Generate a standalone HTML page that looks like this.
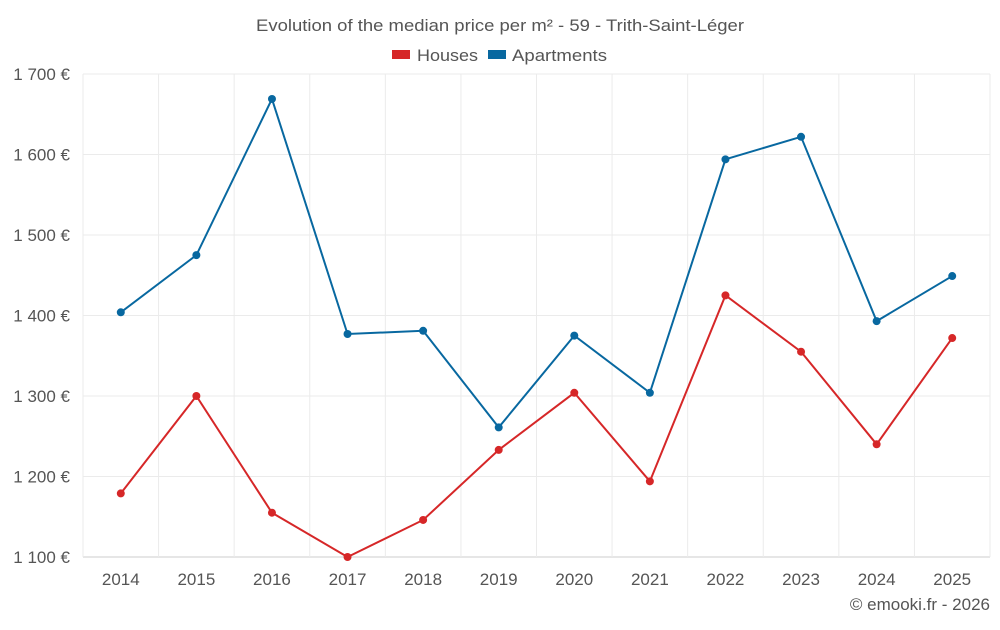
<!DOCTYPE html>
<html><head><meta charset="utf-8"><style>
body{margin:0;background:#fff;font-family:"Liberation Sans",sans-serif}
svg text{font-family:"Liberation Sans",sans-serif}
</style></head><body>
<svg id="c" width="1000" height="625">
<text x="256" y="31" textLength="488" lengthAdjust="spacingAndGlyphs" font-size="17" fill="#555">Evolution of the median price per m² - 59 - Trith-Saint-Léger</text>
<g>
<g><rect x="392" y="50" width="18" height="9" fill="#d62728"/><text x="417" y="61" textLength="61" lengthAdjust="spacingAndGlyphs" font-size="17" fill="#555">Houses</text></g>
<g><rect x="488" y="50" width="18" height="9" fill="#0868a0"/><text x="512" y="61" textLength="95" lengthAdjust="spacingAndGlyphs" font-size="17" fill="#555">Apartments</text></g>
</g>
<g id="grid"></g><g id="axes"></g><g id="series"></g>
<text x="990" y="610" text-anchor="end" font-size="17" fill="#555">© emooki.fr - 2026</text>
</svg>
<script>
const years=["2014","2015","2016","2017","2018","2019","2020","2021","2022","2023","2024","2025"];
const houses=[1179,1300,1155,1100,1146,1233,1304,1194,1425,1355,1240,1372];
const apartments=[1404,1475,1669,1377,1381,1261,1375,1304,1594,1622,1393,1449];
const yTicks=[1100,1200,1300,1400,1500,1600,1700];
const tickLabels=["1 100 €","1 200 €","1 300 €","1 400 €","1 500 €","1 600 €","1 700 €"];
const L=83,R=990,T=74,B=557,ymin=1100,ymax=1700;
const bw=(R-L)/years.length;
const x=i=>L+bw*(i+0.5);
const y=v=>B-(v-ymin)/(ymax-ymin)*(B-T);
const NS="http://www.w3.org/2000/svg";
function mk(tag,attrs,parent){const e=document.createElementNS(NS,tag);for(const k in attrs)e.setAttribute(k,attrs[k]);parent.appendChild(e);return e;}
const g=document.getElementById('grid'),a=document.getElementById('axes'),s=document.getElementById('series');
yTicks.forEach((t,i)=>{
 const ln=mk('line',{x1:L,x2:R,y1:y(t),y2:y(t),stroke:i==0?'#ccc':'#ebebeb'},g);
 
 
 const tx=mk('text',{x:70,y:y(t)+6,'text-anchor':'end','font-size':17,fill:'#555'},a);
 tx.textContent=tickLabels[i];
 
 
});
for(let i=0;i<=years.length;i++){
 const ln=mk('line',{x1:L+bw*i,x2:L+bw*i,y1:T,y2:B,stroke:'#ebebeb'},g);
 
 
}
years.forEach((yr,i)=>{
 const tx=mk('text',{x:x(i),y:585,'text-anchor':'middle','font-size':17,fill:'#555'},a);
 tx.textContent=yr;
 
 
});
function series(data,color,name){
 const p=mk('polyline',{points:data.map((v,i)=>x(i)+','+y(v)).join(' '),fill:'none',stroke:color,'stroke-width':2},s);
 
 
 data.forEach((v,i)=>{
  const c=mk('circle',{cx:x(i),cy:y(v),r:4,fill:color},s);
  
  
 });
}
series(apartments,'#0868a0','apartments');
series(houses,'#d62728','houses');
</script>
</body></html>
